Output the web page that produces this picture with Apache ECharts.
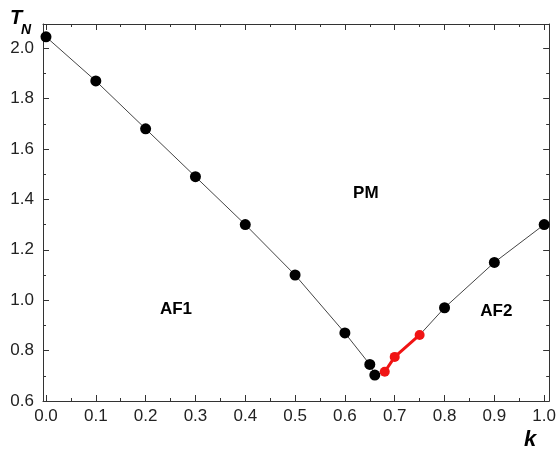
<!DOCTYPE html>
<html>
<head>
<meta charset="utf-8">
<script src="https://cdn.jsdelivr.net/npm/echarts@6/dist/echarts.min.js"></script>
<style>
  html, body { margin: 0; padding: 0; background: #fff; }
  #chart { width: 559px; height: 452px; }
</style>
</head>
<body>
<div id="chart"></div>
<script>
// black points along the Neel line
const kBlack = [0, 0.1, 0.2, 0.3, 0.4, 0.5, 0.6, 0.65, 0.66, 0.8, 0.9, 1.0]
const tBlack = [2.045, 1.87, 1.68, 1.49, 1.30, 1.10, 0.87, 0.745, 0.703, 0.97, 1.15, 1.30]
// red segment
const kRed = [0.68, 0.70, 0.75]
const tRed = [0.716, 0.775, 0.862]
// phase names
const phaseNames = ['PM', 'AF1', 'AF2']
const phaseK = [0.642, 0.261, 0.904]
const phaseT = [1.425, 0.965, 0.955]
// ticks
const xMajor = [0, 0.1, 0.2, 0.3, 0.4, 0.5, 0.6, 0.7, 0.8, 0.9, 1.0]
const xMinor = [0.05, 0.15, 0.25, 0.35, 0.45, 0.55, 0.65, 0.75, 0.85, 0.95]
const yMajor = [0.6, 0.8, 1.0, 1.2, 1.4, 1.6, 1.8, 2.0]
const yMinor = [0.7, 0.9, 1.1, 1.3, 1.5, 1.7, 1.9]

const FONT = '"Liberation Sans", Arial, sans-serif'
const AXIS_COLOR = '#333'

// whole line (black + red points), sorted by k
const linePts = kBlack.map((k, i) => [k, tBlack[i]])
  .concat(kRed.map((k, i) => [k, tRed[i]]))
  .sort((a, b) => a[0] - b[0])

const lineOn = { show: true, onZero: false, lineStyle: { color: AXIS_COLOR, width: 1 } }
const lineOff = { show: false, onZero: false }

const xBase = {
  type: 'value', min: -0.006, max: 1.01,
  splitLine: { show: false },
  axisLine: lineOff,
  axisLabel: { show: false },
}
const yBase = {
  type: 'value', min: 0.6, max: 2.096,
  splitLine: { show: false },
  axisLine: lineOff,
  axisLabel: { show: false },
}
const tick = (vals, len) => ({
  show: true, inside: true, length: len, customValues: vals,
  lineStyle: { color: AXIS_COLOR, width: 1 },
})

const chart = echarts.init(document.getElementById('chart'), null, { renderer: 'canvas' })

chart.setOption({
  animation: false,
  grid: { left: 43, right: 8, top: 24, bottom: 51 },
  xAxis: [
    Object.assign({}, xBase, {
      position: 'bottom',
      axisLine: lineOn,
      axisTick: tick(xMajor, 6),
      axisLabel: {
        show: true, customValues: xMajor, margin: 7,
        color: '#222', fontSize: 17, fontFamily: FONT,
        formatter: v => v.toFixed(1),
      },
    }),
    Object.assign({}, xBase, { position: 'bottom', axisTick: tick(xMinor, 3) }),
    Object.assign({}, xBase, { position: 'top', axisLine: lineOn, axisTick: tick(xMajor, 6) }),
    Object.assign({}, xBase, { position: 'top', axisTick: tick(xMinor, 3) }),
  ],
  yAxis: [
    Object.assign({}, yBase, {
      position: 'left',
      axisLine: lineOn,
      axisTick: tick(yMajor, 6),
      axisLabel: {
        show: true, customValues: yMajor, margin: 9,
        color: '#222', fontSize: 17, fontFamily: FONT,
        formatter: v => v.toFixed(1),
      },
    }),
    Object.assign({}, yBase, { position: 'left', axisTick: tick(yMinor, 3) }),
    Object.assign({}, yBase, { position: 'right', axisLine: lineOn, axisTick: tick(yMajor, 6) }),
    Object.assign({}, yBase, { position: 'right', axisTick: tick(yMinor, 3) }),
  ],
  series: [
    {
      type: 'line', data: linePts, showSymbol: false, symbol: 'none',
      lineStyle: { color: '#444', width: 1 }, z: 2,
    },
    {
      type: 'scatter', data: kBlack.map((k, i) => [k, tBlack[i]]),
      symbol: 'circle', symbolSize: 11,
      itemStyle: { color: '#000', opacity: 1 }, z: 3,
    },
    {
      type: 'line', data: kRed.map((k, i) => [k, tRed[i]]),
      symbol: 'circle', symbolSize: 10, showSymbol: true,
      lineStyle: { color: '#f01414', width: 3 },
      itemStyle: { color: '#f01414', opacity: 1 }, z: 4,
    },
    {
      type: 'scatter', symbolSize: 0, silent: true,
      data: phaseNames.map((n, i) => ({ value: [phaseK[i], phaseT[i]], name: n })),
      itemStyle: { opacity: 1 },
      label: {
        show: true, position: 'inside', formatter: p => p.name,
        color: '#000', fontSize: 17, fontWeight: 'bold', fontFamily: FONT,
      },
      z: 5,
    },
  ],
  graphic: [
    {
      type: 'text', left: 10, top: 8,
      style: { text: 'T', fontSize: 20, fontWeight: 'bold', fontStyle: 'italic', fontFamily: FONT, fill: '#000' },
    },
    {
      type: 'text', left: 21, top: 23,
      style: { text: 'N', fontSize: 14, fontWeight: 'bold', fontStyle: 'italic', fontFamily: FONT, fill: '#000' },
    },
    {
      type: 'text', left: 524, top: 429,
      style: { text: 'k', fontSize: 22, fontWeight: 'bold', fontStyle: 'italic', fontFamily: FONT, fill: '#000' },
    },
  ],
})
</script>
</body>
</html>
